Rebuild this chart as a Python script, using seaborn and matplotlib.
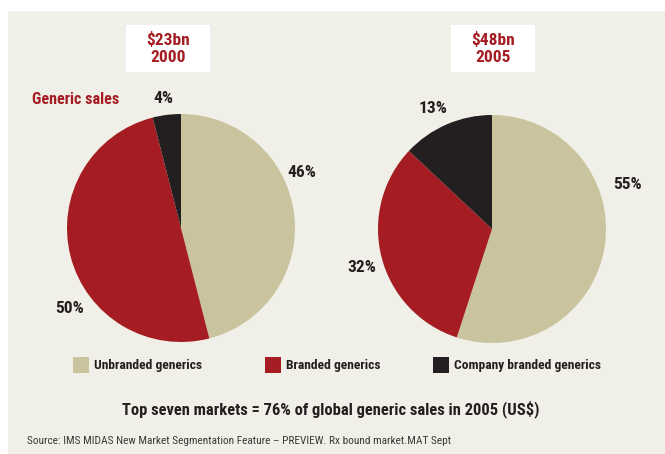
import matplotlib
matplotlib.use("Agg")
import matplotlib.pyplot as plt
import matplotlib.patches as mpatches
import seaborn as sns
import numpy as np

sns.set_theme(style="white")
plt.rcParams['font.family'] = ['Roboto Condensed', 'Liberation Sans Narrow', 'Roboto', 'DejaVu Sans']

# Data
segments = ["Unbranded generics", "Branded generics", "Company branded generics"]
years = ["2000", "2005"]
totals = ["$23bn", "$48bn"]
shares_2000 = [46, 50, 4]
shares_2005 = [55, 32, 13]
title_text = "Top seven markets = 76% of global generic sales in 2005 (US$)"
source_text = "Source: IMS MIDAS New Market Segmentation Feature – PREVIEW. Rx bound market.MAT Sept"

colors = ["#C9C49D", "#A51C22", "#231F20"]
bg = "#F1F0E8"
red = "#A51C22"
dark = "#231F20"

W, H = 665, 454
fig = plt.figure(figsize=(W / 100, H / 100), dpi=100)
fig.patch.set_facecolor("white")

def fx(px):
    return px / W

def fy(py):
    return 1 - py / H

# background panel
fig.patches.append(mpatches.Rectangle((fx(8), 0), 1 - fx(8), fy(11), transform=fig.transFigure,
                                      facecolor=bg, edgecolor="none", zorder=-5))

# label placements (angle deg, distance in radii)
label_pos = {
    "2000": [(24.8, 1.17), (215.8, 1.21), (97.9, 1.15)],
    "2005": [(18.0, 1.25), (196.7, 1.19), (116.0, 1.18)],
}
centers = [(181, 228), (492, 229)]
R = 114
box_x = [(126, 210), (451, 535)]

for (cx, cy), year, total, shares, (bx0, bx1) in zip(centers, years, totals,
                                                    [shares_2000, shares_2005], box_x):
    ax = fig.add_axes([fx(cx - R), fy(cy + R), (2 * R) / W, (2 * R) / H], zorder=2)
    ax.set_facecolor("none")
    ax.pie(shares, colors=colors, startangle=90, counterclock=False, radius=1,
           wedgeprops=dict(linewidth=0))
    ax.set_xlim(-1, 1)
    ax.set_ylim(-1, 1)
    ax.set_aspect("equal")
    ax.axis("off")
    for val, (ang, dist) in zip(shares, label_pos[year]):
        a = np.deg2rad(ang)
        ax.text(dist * np.cos(a), dist * np.sin(a), f"{val}%", ha="center", va="center",
                fontsize=12.5, fontweight="bold", color=dark, clip_on=False)
    # title box
    fig.patches.append(mpatches.Rectangle((fx(bx0), fy(72)), (bx1 - bx0) / W, (72 - 25) / H,
                                          transform=fig.transFigure, facecolor="white",
                                          edgecolor="none", zorder=1))
    fig.text(fx((bx0 + bx1) / 2), fy(48.5), f"{total}\n{year}", ha="center", va="center",
             fontsize=12.5, fontweight="bold", color=red, linespacing=1.1, zorder=3)

fig.text(fx(32), fy(100), "Generic sales", ha="left", va="center", fontsize=11.5,
         fontweight="bold", color=red)

# legend
leg_x = [73, 265, 433]
for x0, lab, c in zip(leg_x, segments, colors):
    fig.patches.append(mpatches.Rectangle((fx(x0), fy(373)), 16 / W, 16 / H,
                                          transform=fig.transFigure, facecolor=c,
                                          edgecolor="none", zorder=1))
    fig.text(fx(x0 + 21), fy(365.5), lab, ha="left", va="center", fontsize=9.7,
             fontweight="bold", color=dark)

fig.text(fx(331), fy(409), title_text, ha="center", va="center", fontsize=11.9,
         fontweight="bold", color=dark)
fig.text(fx(27), fy(441), source_text, ha="left", va="center", fontsize=8.2, color="#3a3a3a")

fig.savefig("out.png", dpi=100, facecolor=fig.get_facecolor())
